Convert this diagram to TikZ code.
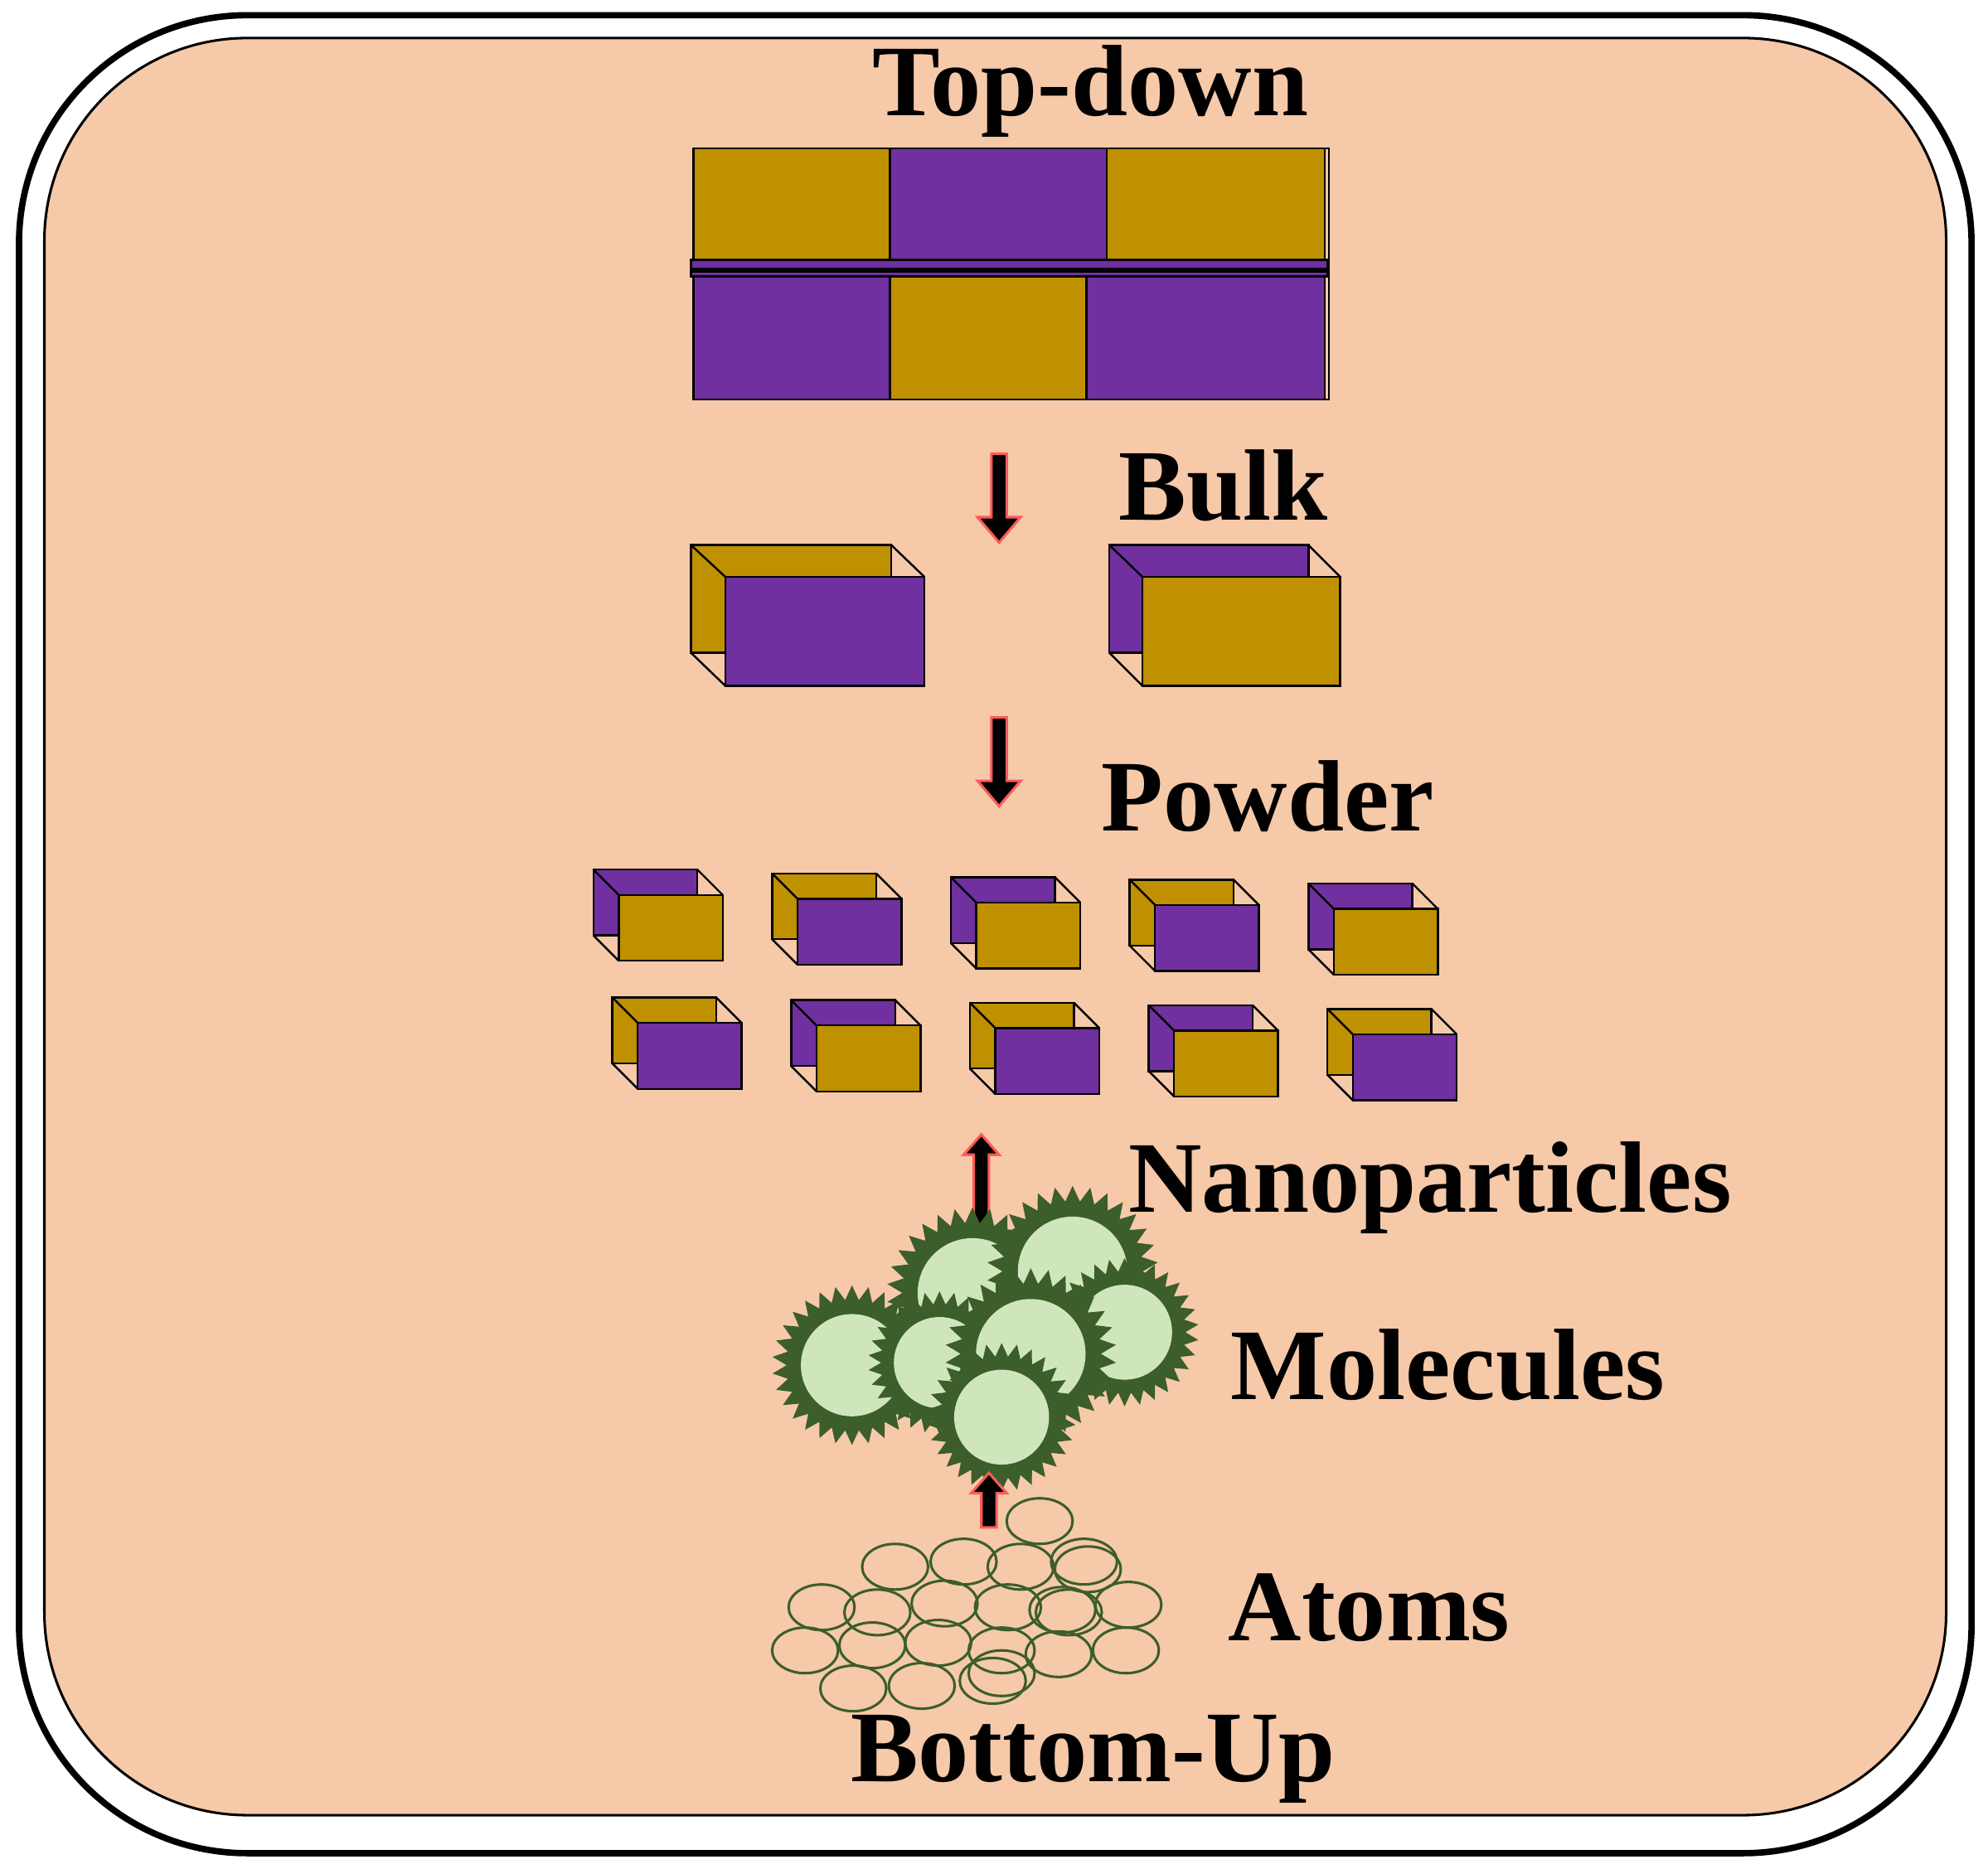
\documentclass[tikz,border=0pt]{standalone}
\usepackage{fontspec}
\setmainfont{Liberation Serif}
\usetikzlibrary{shapes.geometric}
\definecolor{peach}{HTML}{F6C9A9}
\definecolor{gold}{HTML}{BF9000}
\definecolor{purp}{HTML}{7030A0}
\definecolor{lgreen}{HTML}{CFE6BC}
\definecolor{dgreen}{HTML}{3B5E2B}
\definecolor{redl}{HTML}{FF5A5A}
\tikzset{lbl/.style={font=\bfseries\fontsize{40}{44}\selectfont},
 blk/.style={draw=black,line width=0.8pt},
 arr/.style={fill=black,draw=redl,line width=1pt},
 atom/.style={draw=dgreen,line width=1pt},
 spk/.style={star,star points=30,star point ratio=1.22,fill=dgreen,draw=none}}
\newcommand{\pairbox}[4]{% x y backcolor frontcolor
 \draw[blk,fill=#3] (#1,#2) rectangle ++(82,52);
 \draw[blk] (#1,#2) -- ++(20,20) (#1+82,#2) -- ++(20,20) (#1,#2+52) -- ++(20,20) (#1+82,#2+52)--++(20,20);
 \draw[blk,fill=#4] (#1+20,#2+20) rectangle ++(82,52);}
\newcommand{\darr}[3]{\draw[arr] (#1-6,#2) -- (#1+6,#2) -- (#1+6,#3-20) -- (#1+17,#3-20) -- (#1,#3) -- (#1-17,#3-20) -- (#1-6,#3-20) -- cycle;}
\newcommand{\uarr}[3]{\draw[arr] (#1-6,#2) -- (#1+6,#2) -- (#1+6,#3+16) -- (#1+14,#3+16) -- (#1,#3) -- (#1-14,#3+16) -- (#1-6,#3+16) -- cycle;}
\newcommand{\mol}[4]{\node[spk,minimum size=#3*2.25pt] (#4) at (#1,#2) {}; \fill[lgreen] (#1,#2) circle (#3*0.72pt);}
\begin{document}
\begin{tikzpicture}[x=0.5pt,y=-0.5pt]
\useasboundingbox (0,0) rectangle (1568,1474);
\fill[white] (0,0) rectangle (1568,1474);
\draw[line width=2.5pt,rounded corners=90pt] (15,12) rectangle (1555,1462);
\draw[line width=1pt,fill=peach,rounded corners=80pt] (35,30) rectangle (1535,1432);
\node[lbl] (td) at (860,72) {Top-down};
% bulk
\draw[blk,fill=gold] (547,117) rectangle (702,205);
\draw[blk,fill=purp] (702,117) rectangle (873,205);
\draw[blk,fill=gold] (873,117) rectangle (1045,205);
\draw[blk,fill=purp] (545,205) rectangle (1047,218);
\draw[line width=2pt] (545,213) -- (1047,213);
\draw[blk,fill=purp] (547,218) rectangle (702,315);
\draw[blk,fill=gold] (702,218) rectangle (857,315);
\draw[blk,fill=purp] (857,218) rectangle (1045,315);
\draw[blk] (1045,117) -- (1048,117) -- (1048,315) -- (1045,315);
\darr{788}{358}{428}
\node[lbl] (bulk) at (965,383) {Bulk};
% bulk pieces
\draw[blk,fill=gold] (545,430) rectangle (703,515);
\draw[blk] (545,430)--(572,455) (703,430)--(729,455) (545,515)--(572,541);
\draw[blk,fill=purp] (572,455) rectangle (729,541);
\draw[blk,fill=purp] (875,430) rectangle (1032,515);
\draw[blk] (875,430)--(901,455) (1032,430)--(1057,455) (875,515)--(901,541);
\draw[blk,fill=gold] (901,455) rectangle (1057,541);
\darr{788}{566}{636}
\node[lbl] (powder) at (1000,628) {Powder};
% powder
\pairbox{468}{686}{purp}{gold}
\pairbox{609}{689}{gold}{purp}
\pairbox{750}{692}{purp}{gold}
\pairbox{891}{694}{gold}{purp}
\pairbox{1032}{697}{purp}{gold}
\pairbox{483}{787}{gold}{purp}
\pairbox{624}{789}{purp}{gold}
\pairbox{765}{791}{gold}{purp}
\pairbox{906}{793}{purp}{gold}
\pairbox{1047}{796}{gold}{purp}
\uarr{774}{975}{895}
\node[lbl] (nano) at (1128,937) {Nanoparticles};
% molecules
\mol{767}{1020}{30}{m1}
\mol{846}{1003}{30}{m2}
\mol{887}{1051}{26}{m3}
\mol{672}{1077}{28}{m4}
\mol{741}{1075}{25}{m5}
\mol{813}{1068}{30}{m6}
\mol{790}{1118}{26}{m7}
\node[lbl] (mols) at (1142,1077) {Molecules};
\uarr{780}{1205}{1162}
% atoms
\foreach \x/\y in {820/1200,706/1236,760/1232,805/1236,855/1232,858/1238,648/1268,692/1272,745/1265,795/1268,843/1272,838/1270,890/1266,635/1302,688/1298,740/1296,790/1302,835/1305,888/1302,673/1332,727/1330,783/1326,790/1320}
  \draw[atom] (\x,\y) ellipse (26 and 18);
\node[lbl] (atoms) at (1080,1268) {Atoms};
\node[lbl] (bu) at (862,1388) {Bottom-Up};
\end{tikzpicture}
\end{document}
